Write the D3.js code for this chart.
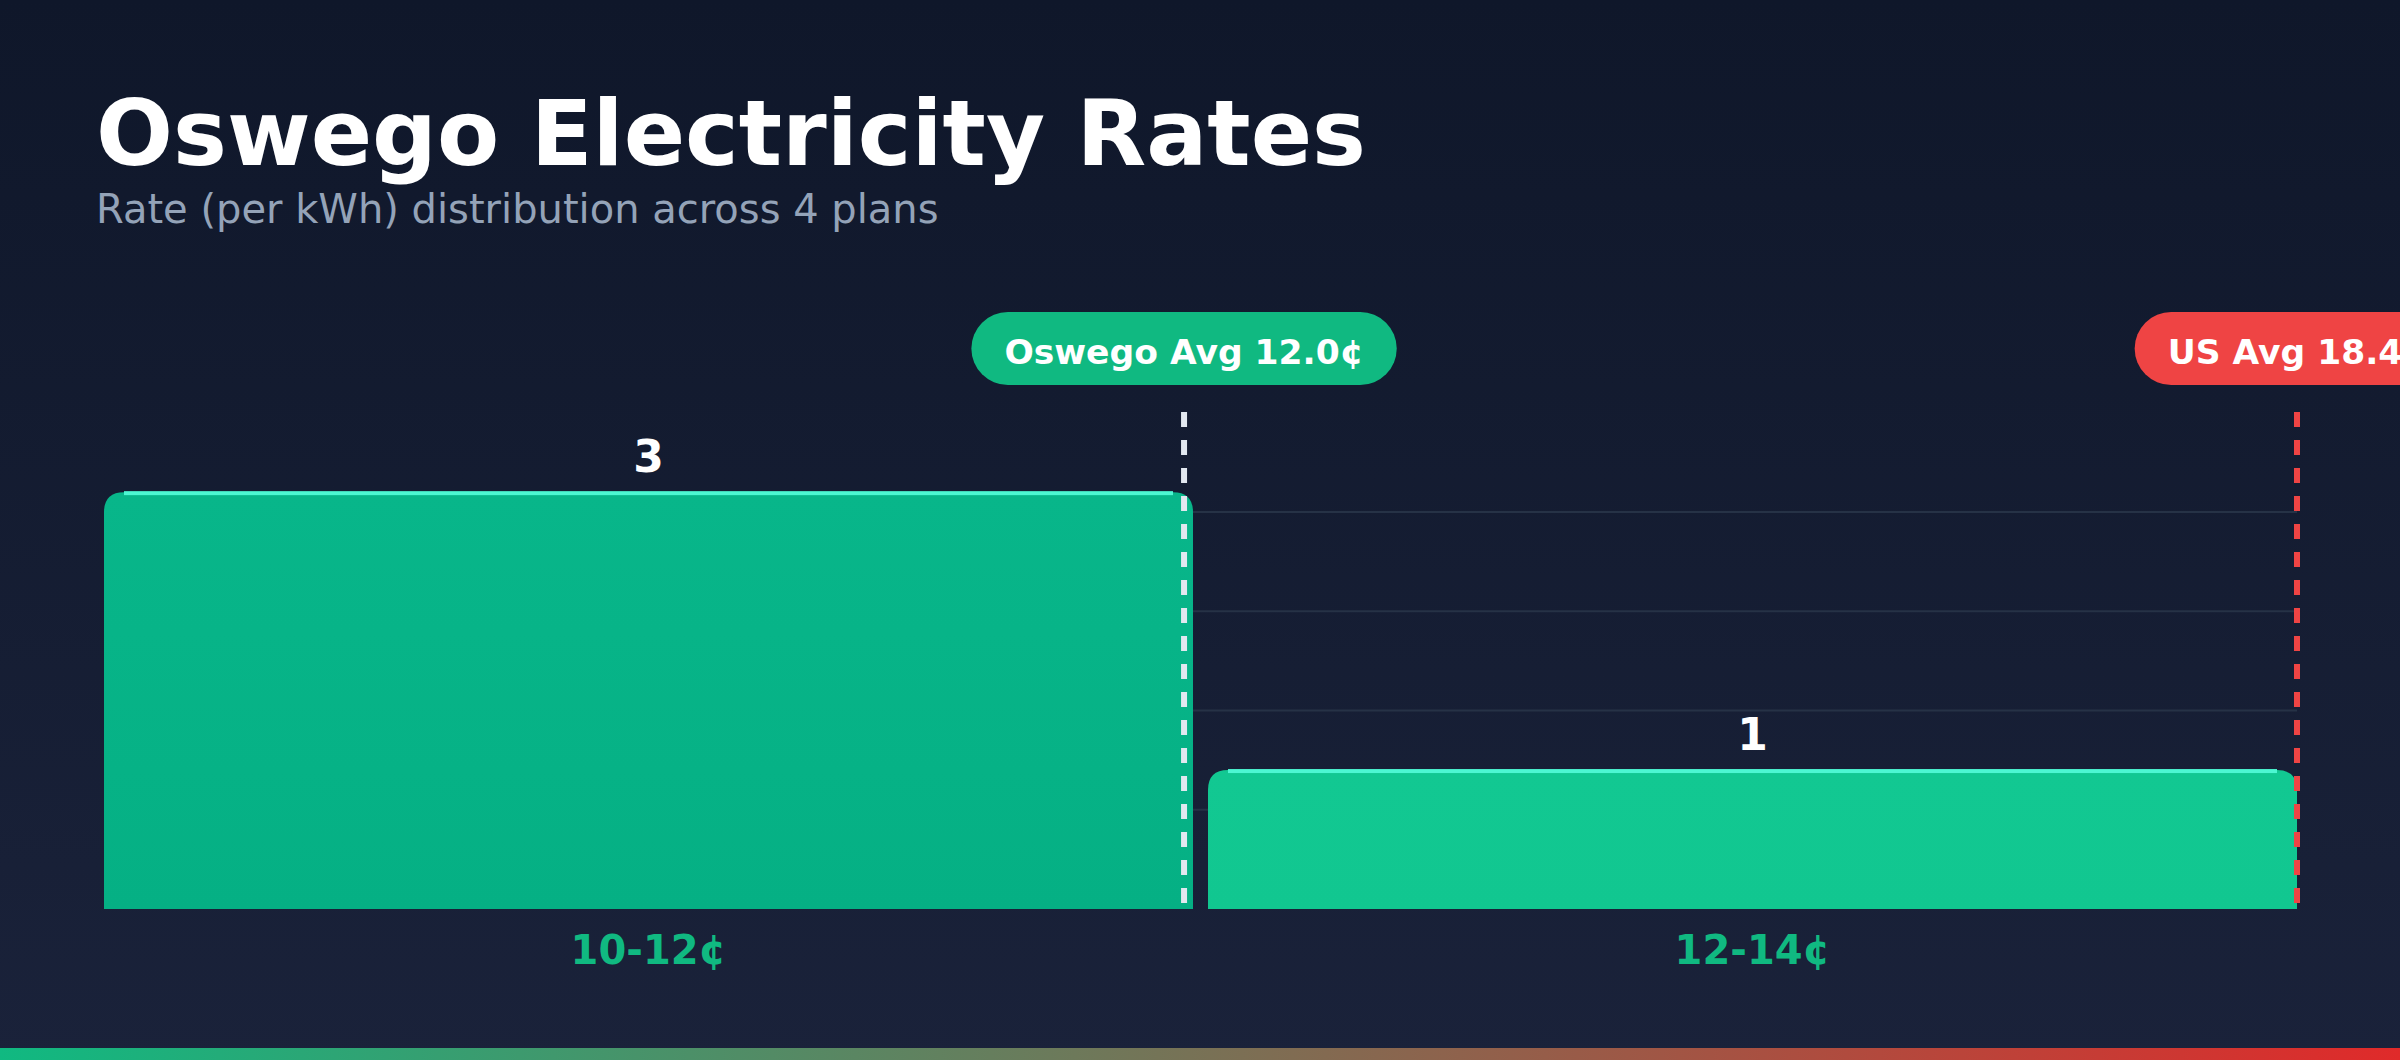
<!DOCTYPE html>
<html>
<head>
<meta charset="utf-8">
<script src="https://cdn.jsdelivr.net/npm/d3@7"></script>
<style>
  html, body { margin: 0; padding: 0; background: #0f172a; }
  svg { display: block; font-family: "DejaVu Sans", sans-serif; }
</style>
</head>
<body>
<svg id="chart"></svg>
<script>
// Chart data
const binLabels = ["10-12¢", "12-14¢"];
const binStarts = [10, 12];
const binEnds = [12, 14];
const planCounts = [3, 1];
const osAvg = 11.97;   // shown as 12.0¢
const usAvg = 18.4;
const titleText = "Oswego Electricity Rates";
const subtitleText = "Rate (per kWh) distribution across 4 plans";

const W = 2400, H = 1060;
const plot = { left: 104, right: 2297, top: 512, bottom: 909 };

const svg = d3.select("#chart")
    .attr("width", W)
    .attr("height", H)
    .attr("viewBox", `0 0 ${W} ${H}`);

const defs = svg.append("defs");

// background gradient
const bg = defs.append("linearGradient")
    .attr("id", "bg").attr("x1", 0).attr("y1", 0).attr("x2", 0).attr("y2", 1);
bg.append("stop").attr("offset", "0%").attr("stop-color", "#0f172a");
bg.append("stop").attr("offset", "100%").attr("stop-color", "#1a223a");

// bottom strip gradient
const strip = defs.append("linearGradient")
    .attr("id", "strip").attr("x1", 0).attr("y1", 0).attr("x2", 1).attr("y2", 0);
strip.append("stop").attr("offset", "0%").attr("stop-color", "#10b981");
strip.append("stop").attr("offset", "100%").attr("stop-color", "#e02a2a");

// bar gradients
const barFills = [["#08b68a", "#05b084"], ["#12c892", "#11c790"]];
barFills.forEach((c, i) => {
    const g = defs.append("linearGradient")
        .attr("id", "bar" + i).attr("x1", 0).attr("y1", 0).attr("x2", 0).attr("y2", 1);
    g.append("stop").attr("offset", "0%").attr("stop-color", c[0]);
    g.append("stop").attr("offset", "100%").attr("stop-color", c[1]);
});

svg.append("rect").attr("width", W).attr("height", H).attr("fill", "url(#bg)");

// Title
svg.append("text")
    .attr("x", 96).attr("y", 165)
    .attr("fill", "#ffffff")
    .style("font-size", "90.6px").style("font-weight", "bold")
    .text(titleText);

svg.append("text")
    .attr("x", 96).attr("y", 223)
    .attr("fill", "#94a3b8")
    .style("font-size", "40px")
    .text(subtitleText);

// Scales
const xBand = d3.scaleBand()
    .domain(binLabels)
    .range([plot.left, plot.right])
    .paddingInner(15 / 1104)
    .paddingOuter(0);

const xRate = d3.scaleLinear()
    .domain([binStarts[0], binEnds[binEnds.length - 1]])
    .range([plot.left, plot.right])
    .clamp(true);

const maxCount = d3.max(planCounts);
const plotH = plot.bottom - plot.top;
const y = d3.scaleLinear()
    .domain([0, maxCount])
    .range([plot.bottom, plot.top - plotH * 0.05]);

// Gridlines (quarters of the plot height)
const gridFrac = [0.25, 0.5, 0.75, 1];
svg.append("g").selectAll("line")
    .data(gridFrac)
    .join("line")
    .attr("x1", plot.left).attr("x2", plot.right)
    .attr("y1", d => plot.bottom - d * plotH)
    .attr("y2", d => plot.bottom - d * plotH)
    .attr("stroke", "#263246")
    .attr("stroke-width", 2);

// Bars with rounded top corners
const r = 20;
function topRounded(x0, y0, w, h) {
    const rr = Math.min(r, w / 2, h);
    return `M${x0},${y0 + h}V${y0 + rr}Q${x0},${y0} ${x0 + rr},${y0}` +
           `H${x0 + w - rr}Q${x0 + w},${y0} ${x0 + w},${y0 + rr}V${y0 + h}Z`;
}

const bars = svg.append("g").selectAll("g")
    .data(binLabels.map((d, i) => ({ label: d, count: planCounts[i], i })))
    .join("g");

bars.append("path")
    .attr("d", d => topRounded(xBand(d.label), y(d.count), xBand.bandwidth(), plot.bottom - y(d.count)))
    .attr("fill", d => `url(#bar${d.i})`);

bars.append("rect")
    .attr("x", d => xBand(d.label) + r)
    .attr("y", d => y(d.count) - 1)
    .attr("width", xBand.bandwidth() - 2 * r)
    .attr("height", 4)
    .attr("fill", "#4cf7d2");

bars.append("text")
    .attr("x", d => xBand(d.label) + xBand.bandwidth() / 2)
    .attr("y", d => y(d.count) - 20)
    .attr("text-anchor", "middle")
    .attr("fill", "#ffffff")
    .style("font-size", "44px").style("font-weight", "bold")
    .text(d => d.count);

bars.append("text")
    .attr("x", d => xBand(d.label) + xBand.bandwidth() / 2)
    .attr("y", 964)
    .attr("text-anchor", "middle")
    .attr("fill", "#10b981")
    .style("font-size", "40px").style("font-weight", "bold")
    .text(d => d.label);

// Average reference lines with pill labels
const refs = [
    { name: "Oswego Avg", value: osAvg, line: "#e2e8f0", pill: "#10b981" },
    { name: "US Avg", value: usAvg, line: "#ef4444", pill: "#ef4444" }
];

const refG = svg.append("g").selectAll("g")
    .data(refs)
    .join("g");

refG.append("line")
    .attr("x1", d => xRate(d.value)).attr("x2", d => xRate(d.value))
    .attr("y1", 412).attr("y2", plot.bottom)
    .attr("stroke", d => d.line)
    .attr("stroke-width", 6)
    .attr("stroke-dasharray", "15,13");

refG.each(function(d) {
    const g = d3.select(this);
    const cx = xRate(d.value);
    const pill = g.append("rect")
        .attr("y", 312).attr("height", 73)
        .attr("rx", 36.5).attr("ry", 36.5)
        .attr("fill", d.pill);
    const t = g.append("text")
        .attr("x", cx).attr("y", 364)
        .attr("text-anchor", "middle")
        .attr("fill", "#ffffff")
        .style("font-size", "34.5px").style("font-weight", "bold")
        .text(`${d.name} ${d.value.toFixed(1)}¢`);
    const tw = t.node().getComputedTextLength();
    pill.attr("x", cx - tw / 2 - 33).attr("width", tw + 66);
});

// Bottom accent strip
svg.append("rect")
    .attr("x", 0).attr("y", H - 12)
    .attr("width", W).attr("height", 12)
    .attr("fill", "url(#strip)");
</script>
</body>
</html>
